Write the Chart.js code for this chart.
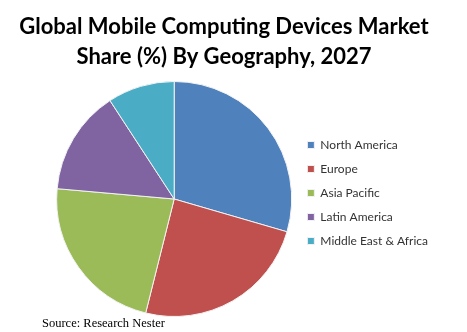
<!DOCTYPE html>
<html>
<head>
<meta charset="utf-8">
<script src="https://cdn.jsdelivr.net/npm/chart.js@4"></script>
<style>
  html, body { margin: 0; padding: 0; background: #fff; }
  #wrap { width: 467px; height: 332px; }
</style>
</head>
<body>
<div id="wrap"><canvas id="pie" width="467" height="332"></canvas></div>
<script>
    const regions = ["North America", "Europe", "Asia Pacific", "Latin America", "Middle East & Africa"];
    const shares = [29.5, 24.4, 22.5, 14.4, 9.2];
    const sliceColors = ["#4f81bd", "#c0504d", "#9bbb59", "#8064a2", "#4bacc6"];
    const titleLines = ["Global Mobile Computing Devices Market", "Share (%) By Geography, 2027"];
    const sourceText = "Source: Research Nester";

    // title + source are drawn by hand, the built-in title can't be offset from the legend
    const textPlugin = {
        id: 'textBits',
        afterLayout: function (chart) {
            // nudge legend up a bit so it sits like the original
            chart.legend.top -= 6;
            chart.legend.bottom -= 6;
        },
        afterDraw: function (chart) {
            let ctx = chart.ctx;
            ctx.save();
            ctx.fillStyle = '#000';
            ctx.textAlign = 'center';
            ctx.textBaseline = 'alphabetic';
            ctx.font = 'bold 22px Lato';
            ctx.fillText(titleLines[0], 224, 34);
            ctx.fillText(titleLines[1], 224, 64);
            ctx.textAlign = 'left';
            ctx.font = '12.5px "Liberation Serif"';
            ctx.fillText(sourceText, 42, 327);
            ctx.restore();
        }
    };

    new Chart(document.getElementById('pie'), {
        type: 'pie',
        data: {
            labels: regions,
            datasets: [{
                data: shares,
                backgroundColor: sliceColors,
                borderColor: '#f2f2f2',
                borderWidth: 1
            }]
        },
        options: {
            responsive: false,
            animation: false,
            layout: {
                padding: { left: 53, right: 29, top: 81, bottom: 15 }
            },
            plugins: {
                title: { display: false },
                tooltip: { enabled: false },
                legend: {
                    position: 'right',
                    align: 'center',
                    labels: {
                        boxWidth: 7,
                        boxHeight: 7,
                        padding: 12,
                        color: '#333',
                        font: { family: 'Lato', size: 12 }
                    }
                }
            }
        },
        plugins: [textPlugin]
    });
</script>
</body>
</html>
